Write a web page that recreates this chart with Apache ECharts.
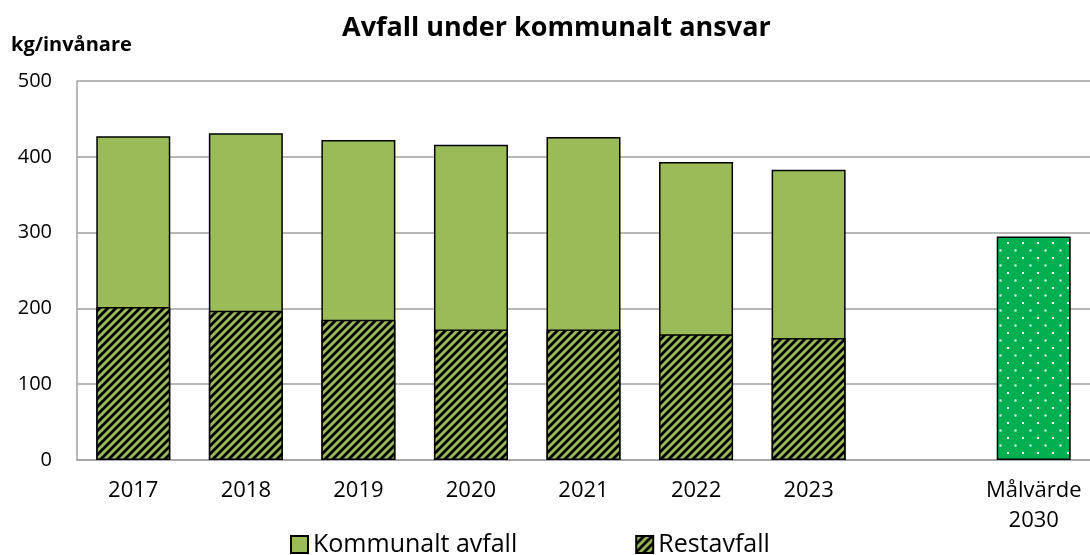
<!DOCTYPE html>
<html>
<head>
<meta charset="utf-8">
<script src="https://cdn.jsdelivr.net/npm/echarts@6/dist/echarts.min.js"></script>
<style>
  html, body { margin: 0; padding: 0; background: #fff; }
  #chart { width: 1090px; height: 555px; }
</style>
</head>
<body>
<div id="chart"></div>
<script>
  // data
  const categories = ['2017', '2018', '2019', '2020', '2021', '2022', '2023', '', 'Målvärde\n2030']
  const kommunaltAvfall = [427, 431, 422, 416, 426, 393, 383, null, null]
  const restavfall = [202, 197, 185, 172, 172, 166, 161, null, null]
  const malvarde = [null, null, null, null, null, null, null, null, 295]
  const yTicks = [0, 100, 200, 300, 400, 500]

  const FONT = '"Open Sans", sans-serif'
  const GREEN = '#9BBB59'

  // hatched pattern for restavfall
  function hatch() {
    const c = document.createElement('canvas')
    c.width = 8; c.height = 8
    const g = c.getContext('2d')
    g.fillStyle = GREEN
    g.fillRect(0, 0, 8, 8)
    g.strokeStyle = '#000'
    g.lineWidth = 2.8
    for (let k = -1; k <= 1; k++) {
      g.beginPath()
      g.moveTo(k * 8 - 1, 9)
      g.lineTo(k * 8 + 9, -1)
      g.stroke()
    }
    return c
  }

  // dotted pattern for målvärde
  function dots() {
    const c = document.createElement('canvas')
    c.width = 15; c.height = 15
    const g = c.getContext('2d')
    g.fillStyle = '#00B050'
    g.fillRect(0, 0, 15, 15)
    g.fillStyle = '#fff'
    g.fillRect(2, 2, 2, 2)
    g.fillRect(9.5, 9.5, 2, 2)
    return c
  }

  const chart = echarts.init(document.getElementById('chart'))
  chart.setOption({
    animation: false,
    title: [
      {
        text: 'Avfall under kommunalt ansvar',
        left: 337,
        top: 10,
        textStyle: { fontFamily: FONT, fontSize: 27, fontWeight: 'bold', color: '#000' }
      },
      {
        text: 'kg/invånare',
        left: 6,
        top: 30,
        textStyle: { fontFamily: FONT, fontSize: 20, fontWeight: 'bold', color: '#000' }
      }
    ],
    grid: { left: 77, top: 81, width: 1021, height: 379, containLabel: false },
    legend: {
      data: ['Kommunalt avfall', 'Restavfall'],
      left: 290,
      top: 532,
      padding: 0,
      icon: 'rect',
      itemWidth: 17,
      itemHeight: 17,
      itemGap: 118,
      textStyle: { fontFamily: FONT, fontSize: 25, color: '#000' }
    },
    xAxis: {
      type: 'category',
      data: categories,
      axisTick: { show: false },
      axisLine: { lineStyle: { color: '#A0A0A0', width: 1.5 } },
      axisLabel: { fontFamily: FONT, fontSize: 22, color: '#000', margin: 16, lineHeight: 30, interval: 0 }
    },
    yAxis: {
      type: 'value',
      min: yTicks[0],
      max: yTicks[yTicks.length - 1],
      interval: 100,
      axisTick: { show: false },
      axisLine: { show: true, lineStyle: { color: '#A0A0A0', width: 1.5 } },
      splitLine: { lineStyle: { color: '#A0A0A0', width: 1.5 } },
      axisLabel: { fontFamily: FONT, fontSize: 20, color: '#000', margin: 25 }
    },
    series: [
      {
        name: 'Kommunalt avfall',
        type: 'bar',
        data: kommunaltAvfall,
        barWidth: 74,
        barGap: '-100%',
        itemStyle: { color: GREEN, borderColor: '#000', borderWidth: 1.5 }
      },
      {
        name: 'Restavfall',
        type: 'bar',
        data: restavfall,
        barWidth: 74,
        barGap: '-100%',
        itemStyle: { color: { image: hatch(), repeat: 'repeat' }, borderColor: '#000', borderWidth: 1.5 }
      },
      {
        name: 'Målvärde',
        type: 'bar',
        data: malvarde,
        barWidth: 74,
        barGap: '-100%',
        itemStyle: { color: { image: dots(), repeat: 'repeat' }, borderColor: '#000', borderWidth: 1.5 }
      }
    ]
  })
</script>
</body>
</html>
